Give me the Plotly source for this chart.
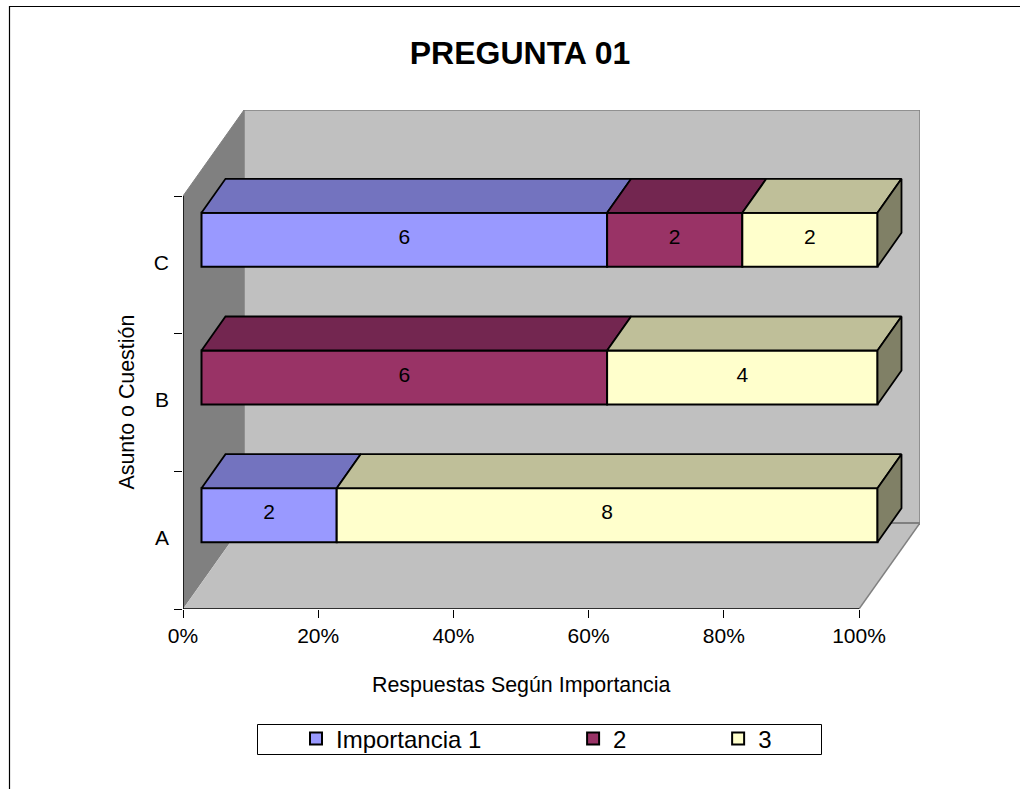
import plotly.graph_objects as go

categories = ["A", "B", "C"]
series_names = ["Importancia 1", "2", "3"]
importancia_1 = [2, 0, 6]
importancia_2 = [0, 6, 2]
importancia_3 = [8, 4, 2]
tick_percent = [0, 20, 40, 60, 80, 100]

front_colors = ["#9999FF", "#993366", "#FFFFCC"]
top_colors = ["#7373BF", "#732650", "#BFBF99"]
side_colors = ["#737340", "#4D1A33", "#808066"]
NBSP = "\u00a0"
legend_pad = [13, 13, 0]

W, H = 1020, 789
L, R, T, B = 183, 920, 110, 609
PX_PER_PCT = 676 / 100
PX_PER_CAT = 413 / 3
FONT = "Liberation Sans"


def xp(px):
    return (px - L) / (R - L)


def yp(py):
    return (B - py) / (B - T)


WALL_DX = 61 / PX_PER_PCT
WALL_DY = 86 / PX_PER_CAT
BAR_OX = 18.5 / PX_PER_PCT
BAR_OY = 25 / PX_PER_CAT
BAR_DX = 24 / PX_PER_PCT
BAR_DY = 34 / PX_PER_CAT
BAR_H = 54 / PX_PER_CAT
LABEL_UP = 1 / PX_PER_CAT
CAT_LABEL_UP = 2.5 / PX_PER_CAT

all_series = [importancia_1, importancia_2, importancia_3]
totals = [sum(s[i] for s in all_series) for i in range(len(categories))]
centers = [i + 0.5 for i in range(len(categories))]

fig = go.Figure()
ends = [0.0] * len(categories)
faces = []
label_x, label_y, label_t = [], [], []
for k, values in enumerate(all_series):
    xs, ys, bases = [], [], []
    for i, v in enumerate(values):
        if v == 0:
            continue
        share = v / totals[i] * 100
        base = ends[i]
        xs.append(share)
        ys.append(centers[i] + BAR_OY)
        bases.append(base + BAR_OX)
        label_x.append(base + BAR_OX + share / 2)
        label_y.append(centers[i] + BAR_OY + LABEL_UP)
        label_t.append(str(v))
        ends[i] = base + share
        faces.append((k, i, base, base + share))
    fig.add_trace(go.Bar(
        orientation="h", x=xs, y=ys, base=bases, width=BAR_H,
        marker=dict(color=front_colors[k], line=dict(color="black", width=2)),
        name=series_names[k] + NBSP * legend_pad[k], hoverinfo="skip",
    ))

for k, i, x0, x1 in faces:
    y_top = centers[i] + BAR_OY + BAR_H / 2
    y_bot = centers[i] + BAR_OY - BAR_H / 2
    a0, a1 = x0 + BAR_OX, x1 + BAR_OX
    fig.add_trace(go.Scatter(
        x=[a0, a1, a1 + BAR_DX, a0 + BAR_DX, a0],
        y=[y_top, y_top, y_top + BAR_DY, y_top + BAR_DY, y_top],
        mode="lines", fill="toself", fillcolor=top_colors[k],
        line=dict(color="black", width=1.8), showlegend=False, hoverinfo="skip",
    ))
    if x1 >= 100 - 1e-9:
        fig.add_trace(go.Scatter(
            x=[a1, a1 + BAR_DX, a1 + BAR_DX, a1, a1],
            y=[y_bot, y_bot + BAR_DY, y_top + BAR_DY, y_top, y_bot],
            mode="lines", fill="toself", fillcolor=side_colors[k],
            line=dict(color="black", width=1.8), showlegend=False, hoverinfo="skip",
        ))

fig.add_trace(go.Scatter(
    x=label_x, y=label_y, text=label_t, mode="text", textposition="middle center",
    textfont=dict(family=FONT, size=21, color="black"), showlegend=False, hoverinfo="skip",
))

GREY = "#808080"
LIGHT = "#C0C0C0"
ymax = len(categories)


def poly(points):
    return "M" + "L".join(f"{x},{y}" for x, y in points) + "Z"


shapes = [
    dict(type="path", path=poly([(0, 0), (0, ymax), (WALL_DX, ymax + WALL_DY), (WALL_DX, WALL_DY)]),
         fillcolor=GREY, line=dict(width=0), layer="below"),
    dict(type="path", path=poly([(WALL_DX, WALL_DY), (100 + WALL_DX, WALL_DY),
                                 (100 + WALL_DX, ymax + WALL_DY), (WALL_DX, ymax + WALL_DY)]),
         fillcolor=LIGHT, line=dict(color=GREY, width=1.5), layer="below"),
    dict(type="path", path=poly([(0, 0), (100, 0), (100 + WALL_DX, WALL_DY), (WALL_DX, WALL_DY)]),
         fillcolor=LIGHT, line=dict(width=0), layer="below"),
    dict(type="line", x0=100, y0=0, x1=100 + WALL_DX, y1=WALL_DY, line=dict(color=GREY, width=1.5), layer="below"),
    dict(type="line", x0=WALL_DX, y0=WALL_DY, x1=100 + WALL_DX, y1=WALL_DY, line=dict(color=GREY, width=2), layer="below"),
    dict(type="line", x0=0, y0=ymax, x1=WALL_DX, y1=ymax + WALL_DY, line=dict(color=GREY, width=1), layer="below"),
    dict(type="line", x0=0, y0=0, x1=100, y1=0, line=dict(color="black", width=1.5)),
    dict(type="line", x0=0, y0=0, x1=0, y1=ymax, line=dict(color="black", width=1.5)),
    # chart-area border and legend box
    dict(type="rect", xref="paper", yref="paper", x0=xp(9.5), x1=xp(1040), y0=yp(6.5), y1=yp(810),
         line=dict(color="black", width=1.2), fillcolor="rgba(0,0,0,0)", layer="below"),
    dict(type="rect", xref="paper", yref="paper", x0=xp(257.5), x1=xp(821.5), y0=yp(724.5), y1=yp(754.5),
         line=dict(color="black", width=1), fillcolor="white", layer="below"),
]

annotations = [
    dict(x=50, xref="x", y=yp(685), yref="paper", text="Respuestas Según Importancia", showarrow=False,
         font=dict(family=FONT, size=21.4, color="black"), xanchor="center", yanchor="middle"),
    dict(x=xp(126), xref="paper", y=1.5, yref="y", text="Asunto o Cuestión", showarrow=False, textangle=-90,
         font=dict(family=FONT, size=21.4, color="black"), xanchor="center", yanchor="middle"),
]

fig.update_layout(
    width=W, height=H, margin=dict(l=L, r=W - R, t=T, b=H - B),
    paper_bgcolor="white", plot_bgcolor="rgba(0,0,0,0)",
    barmode="overlay", shapes=shapes, annotations=annotations,
    title=dict(text="<b>PREGUNTA 01</b>", x=520 / W, xanchor="center", y=1 - 53 / H, yanchor="middle",
               font=dict(family=FONT, size=32, color="black")),
    legend=dict(orientation="h", x=xp(296), xanchor="left", y=yp(739), yanchor="middle",
                bgcolor="rgba(0,0,0,0)", font=dict(family=FONT, size=24, color="black"),
                traceorder="normal"),
    xaxis=dict(range=[0, 100 + WALL_DX], tickvals=tick_percent, ticktext=[f"{p}%" for p in tick_percent],
               ticks="outside", ticklen=8, tickcolor="black", tickwidth=1, showgrid=False, zeroline=False,
               showline=False, tickfont=dict(family=FONT, size=21, color="black"), fixedrange=True),
    yaxis=dict(range=[0, ymax + WALL_DY], tickvals=[c + CAT_LABEL_UP for c in centers], ticktext=categories,
               ticks="", ticklabelstandoff=13,
               minor=dict(tickvals=list(range(len(categories) + 1)), ticks="outside", ticklen=8, tickcolor="black",
                          tickwidth=1, showgrid=False),
               showgrid=False, zeroline=False, showline=False,
               tickfont=dict(family=FONT, size=21, color="black"), fixedrange=True),
)

fig.write_html("out.html", post_script="document.body.style.margin='0';document.body.style.overflow='hidden';",
               config=dict(displayModeBar=False))
